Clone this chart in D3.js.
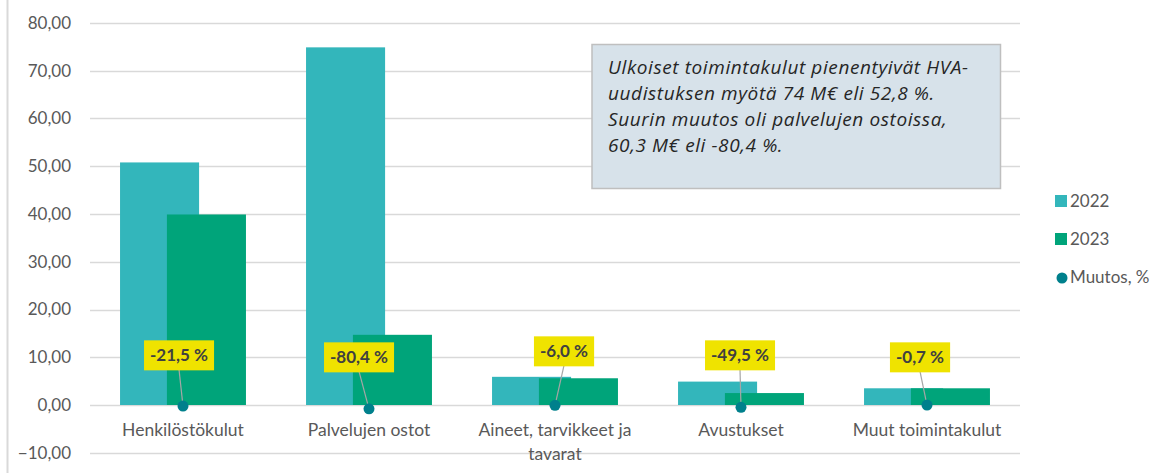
<!DOCTYPE html>
<html>
<head>
<meta charset="utf-8">
<script src="https://cdn.jsdelivr.net/npm/d3@7"></script>
<style>
  body { margin: 0; background: #fff; }
  svg { display: block; font-family: Lato, "Open Sans", sans-serif; }
</style>
</head>
<body>
<svg width="1164" height="473"></svg>
<script>
// Chart data
const categories = ["Henkilöstökulut", "Palvelujen ostot", "Aineet, tarvikkeet ja tavarat", "Avustukset", "Muut toimintakulut"];
const values2022 = [50.8, 74.9, 5.9, 4.9, 3.5];
const values2023 = [39.9, 14.7, 5.6, 2.5, 3.5];
const changePct = [-21.5, -80.4, -6.0, -49.5, -0.7];
const yTicks = [-10, 0, 10, 20, 30, 40, 50, 60, 70, 80];
const seriesNames = ["2022", "2023", "Muutos, %"];
const noteLines = [
  "Ulkoiset toimintakulut pienentyivät HVA-",
  "uudistuksen myötä 74 M€ eli 52,8 %.",
  "Suurin muutos oli palvelujen ostoissa,",
  "60,3 M€ eli -80,4 %."
];

// Styles
const col2022 = "#33b6bb";
const col2023 = "#00a47a";
const colDot = "#00808c";
const colLabel = "#efe300";
const colText = "#595959";
const colGrid = "#d9d9d9";

const svg = d3.select("svg");
const fmt = d3.format(".2f");
const comma = s => s.replace(".", ",");

const x = d3.scaleBand().domain(categories).range([90, 1020]);
const y = d3.scaleLinear().domain([-10, 80]).range([452.75, 23]);
const bw = x.bandwidth();
const barW = bw * 0.425;
const off = bw * 0.126;

// left border
svg.append("line")
   .attr("x1", 7.5).attr("x2", 7.5).attr("y1", 0).attr("y2", 473)
   .attr("stroke", colGrid).attr("stroke-width", 2);

// gridlines
svg.append("g")
   .selectAll("line")
   .data(yTicks)
   .join("line")
   .attr("x1", 90).attr("x2", 1020)
   .attr("y1", d => Math.round(y(d)) + 0.5)
   .attr("y2", d => Math.round(y(d)) + 0.5)
   .attr("stroke", colGrid)
   .attr("stroke-width", 1.5);

// y tick labels
svg.append("g")
   .selectAll("text")
   .data(yTicks)
   .join("text")
   .attr("x", 71)
   .attr("y", d => y(d))
   .attr("dy", "0.35em")
   .attr("text-anchor", "end")
   .attr("font-size", 17)
   .attr("fill", colText)
   .text(d => comma(fmt(d)));

// bars
const bars = svg.append("g");
bars.selectAll("rect.b22")
   .data(values2022)
   .join("rect")
   .attr("class", "b22")
   .attr("x", (d, i) => x(categories[i]) + bw / 2 - off - barW / 2)
   .attr("y", d => y(d))
   .attr("width", barW)
   .attr("height", d => y(0) - y(d))
   .attr("fill", col2022);
bars.selectAll("rect.b23")
   .data(values2023)
   .join("rect")
   .attr("class", "b23")
   .attr("x", (d, i) => x(categories[i]) + bw / 2 + off - barW / 2)
   .attr("y", d => y(d))
   .attr("width", barW)
   .attr("height", d => y(0) - y(d))
   .attr("fill", col2023);

// change markers (plotted as fractions on the same axis) with labels
const labelDx = [-4, -10, 9, -1, -7];
const labelDy = [0, 2, -4, 0, 2];
const changes = svg.append("g");
changePct.forEach(function(d, i){
  const cx = x(categories[i]) + bw / 2;
  const cy = y(d / 100);
  const lx = cx + labelDx[i];
  const ly = y(10.4) + labelDy[i];
  const g = changes.append("g");
  g.append("line")
   .attr("x1", lx).attr("y1", ly + 14)
   .attr("x2", cx).attr("y2", cy)
   .attr("stroke", "#a6a6a6").attr("stroke-width", 1.2);
  const t = g.append("text")
   .attr("x", lx).attr("y", ly)
   .attr("dy", "0.35em")
   .attr("text-anchor", "middle")
   .attr("font-size", 17)
   .attr("font-weight", "bold")
   .attr("fill", "#404040")
   .text(comma(d.toFixed(1)) + " %");
  const bb = t.node().getBBox();
  g.insert("rect", "text")
   .attr("x", bb.x - 6).attr("y", ly - 15)
   .attr("width", bb.width + 12).attr("height", 30)
   .attr("fill", colLabel);
  g.append("circle")
   .attr("cx", cx).attr("cy", cy).attr("r", 5.5)
   .attr("fill", colDot);
});

// category labels (wrapped)
svg.append("g")
   .selectAll("text")
   .data(categories)
   .join("text")
   .attr("text-anchor", "middle")
   .attr("font-size", 17.5)
   .attr("fill", colText)
   .each(function(d){
     const lines = d === "Aineet, tarvikkeet ja tavarat" ? ["Aineet, tarvikkeet ja", "tavarat"] : [d];
     const cx = x(d) + bw / 2;
     d3.select(this).selectAll("tspan")
       .data(lines)
       .join("tspan")
       .attr("x", cx)
       .attr("y", (l, j) => 436 + j * 24)
       .text(l => l);
   });

// note box
svg.append("rect")
   .attr("x", 592).attr("y", 44.5)
   .attr("width", 408.5).attr("height", 144)
   .attr("fill", "#d7e2ea")
   .attr("stroke", "#bfbfbf")
   .attr("stroke-width", 1.5);
svg.append("g")
   .selectAll("text")
   .data(noteLines)
   .join("text")
   .attr("x", 608)
   .attr("y", (d, i) => 74 + i * 26)
   .attr("font-family", "'Open Sans', sans-serif")
   .attr("font-size", 19)
   .attr("letter-spacing", 0.6)
   .attr("font-style", "italic")
   .attr("fill", "#262626")
   .text(d => d);

// legend
const legend = svg.append("g");
const legendY = [201, 239, 277];
seriesNames.forEach(function(name, i){
  if (i < 2) {
    legend.append("rect")
      .attr("x", 1055).attr("y", legendY[i] - 6)
      .attr("width", 12).attr("height", 12)
      .attr("fill", i === 0 ? col2022 : col2023);
  } else {
    legend.append("circle")
      .attr("cx", 1062).attr("cy", legendY[i] + 1).attr("r", 5.5)
      .attr("fill", colDot);
  }
  legend.append("text")
    .attr("x", 1070).attr("y", legendY[i])
    .attr("dy", "0.35em")
    .attr("font-size", 17)
    .attr("fill", colText)
    .text(name);
});
</script>
</body>
</html>
